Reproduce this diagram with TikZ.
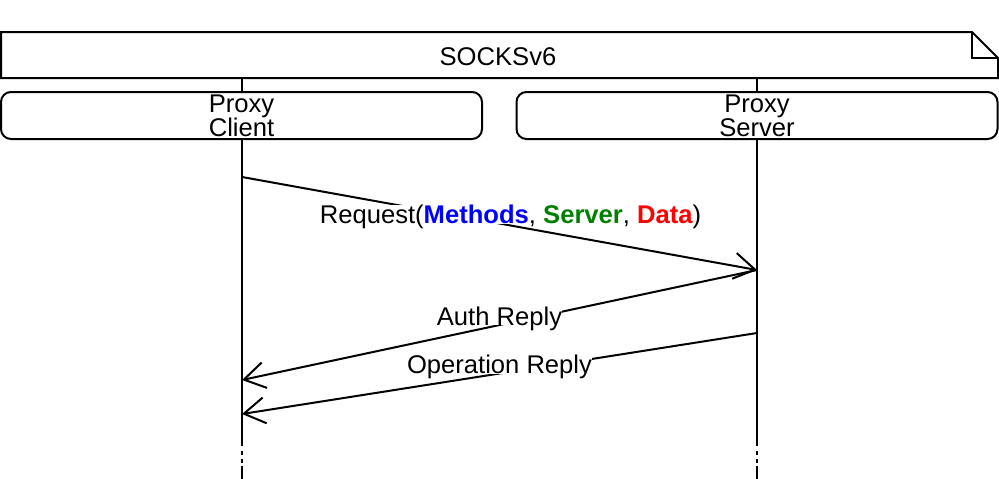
\documentclass[tikz,border=0pt]{standalone}
\usepackage{fontspec}
\setmainfont{Liberation Sans}
\usetikzlibrary{arrows.meta}
\definecolor{methodblue}{RGB}{0,0,255}
\definecolor{servergreen}{RGB}{0,128,0}
\definecolor{datared}{RGB}{255,0,0}

\begin{document}
\begin{tikzpicture}[x=1pt,y=-1pt,line width=2pt,font=\fontsize{25.6}{24}\selectfont]

%
% Styles
%
\tikzstyle{entity} = [draw,rounded corners=10pt,minimum width=481pt,minimum height=47pt,align=center,inner sep=0pt]
\tikzstyle{msg} = [-{Straight Barb[length=21pt,width=26pt,line width=2pt]}]
\tikzstyle{msglabel} = [fill=white,anchor=base,inner sep=0pt,text depth=0pt]
\tikzstyle{lifeend} = [dash pattern=on 0pt off 5pt on 4pt off 4pt on 4pt off 3pt on 20pt]

\useasboundingbox (0,0) rectangle (999,479);

% title box with folded corner
\draw (1,32) -- (972,32) -- (998,58) -- (998,78) -- (1,78) -- cycle;
\draw (972,32) |- (998,58);
\node (socks) at (498,57) {SOCKSv6};

% parties
\node[entity] (client) at (241.5,115.5) {Proxy\\Client};
\node[entity] (server) at (757,115.5) {Proxy\\Server};

% lifelines
\coordinate (ctop) at (242,78);
\coordinate (stop) at (757,78);
\coordinate (cend) at (242,446);
\coordinate (send) at (757,446);
\coordinate (cfoot) at (242,479);
\coordinate (sfoot) at (757,479);
\draw (ctop) -- (client.north -| ctop);
\draw (stop) -- (server.north -| stop);
\draw (client.south -| ctop) -- (cend);
\draw (server.south -| stop) -- (send);
\draw[lifeend] (cend) -- (cfoot);
\draw[lifeend] (send) -- (sfoot);

% messages
\coordinate (req) at (242,177);
\coordinate (reqin) at (757,270);
\coordinate (auth) at (757,270);
\coordinate (authin) at (242,380);
\coordinate (op) at (757,333);
\coordinate (opin) at (242,414);

\draw[msg] (req) -- node[msglabel,xshift=11pt] {Request(\textbf{\color{methodblue}Methods}, \textbf{\color{servergreen}Server}, \textbf{\color{datared}Data})} (reqin);
\draw[msg] (auth) -- node[msglabel] {Auth Reply} (authin);
\draw[msg] (op) -- node[msglabel] {Operation Reply} (opin);

\end{tikzpicture}
\end{document}
